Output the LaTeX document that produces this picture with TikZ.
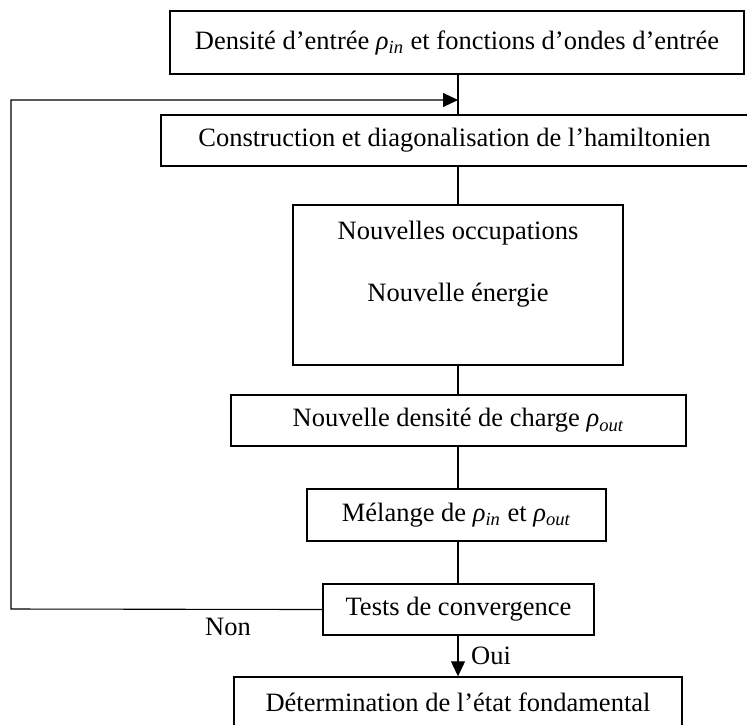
\documentclass[tikz,border=0pt]{standalone}
\usepackage{fontspec}
\setmainfont{Liberation Serif}
\usetikzlibrary{calc,positioning}
\usetikzlibrary{arrows.meta}

\newcommand{\rhoin}{\textit{ρ}\textsubscript{\textit{in}}}
\newcommand{\rhoout}{\textit{ρ}\textsubscript{\textit{out}}}

\tikzset{
    bloc/.style={draw, line width=0.7pt, inner sep=0pt},
    lien/.style={line width=0.55pt},
    fleche/.style={lien, -{Triangle[length=7.5pt,width=7pt]}}
}

\begin{document}
\begin{tikzpicture}[x=0.5pt, y=-0.5pt, font=\fontsize{13.25}{15.9}\selectfont]
    \useasboundingbox (0,0) rectangle (747,724);

    \coordinate (j) at (458,100);
    \coordinate (g1) at (11,100);
    \coordinate (g2) at (11,609);

    % les blocs
    \node[bloc, minimum width=287pt, minimum height=31.5pt] (entree) at (457,42.5)
        {Densité d’entrée \rhoin{} et fonctions d’ondes d’entrée};
    \node[bloc, minimum width=293.5pt, minimum height=25.5pt] (cons) at (454.5,140.5)
        {Construction et diagonalisation de l’hamiltonien};
    \node[bloc, minimum width=165pt, minimum height=80pt] (occ) at (458,285) {};
    \node (occ1) at (458,233) {Nouvelles occupations};
    \node (occ2) at (458,295) {Nouvelle énergie};
    \node[bloc, minimum width=227.5pt, minimum height=25.5pt] (densite) at (458.5,420.5)
        {Nouvelle densité de charge \rhoout};
    \node[bloc, minimum width=149.5pt, minimum height=26pt] (melange) at (456.5,515)
        {Mélange de \rhoin{} et \rhoout};
    \node[bloc, minimum width=135.5pt, minimum height=25.5pt] (tests) at (458.5,609.5)
        {Tests de convergence};
    \node[bloc, minimum width=224pt, minimum height=25pt] (etat) at (458,702)
        {Détermination de l’état fondamental};

    % liaisons
    \draw[lien] (entree.south -| j) -- (cons.north -| j);
    \draw[lien] (cons.south -| j) -- (occ.north -| j);
    \draw[lien] (occ.south -| j) -- (densite.north -| j);
    \draw[lien] (densite.south -| j) -- (melange.north -| j);
    \draw[lien] (melange.south -| j) -- (tests.north -| j);

    % retour
    \draw[fleche] (tests.west) -- (g2) -- (g1) -- (j);
    \node (non) at (228,627) {Non};

    \draw[fleche] (tests.south -| j) -- (etat.north -| j)
        node[midway, right, xshift=3pt] (oui) {Oui};
\end{tikzpicture}
\end{document}
